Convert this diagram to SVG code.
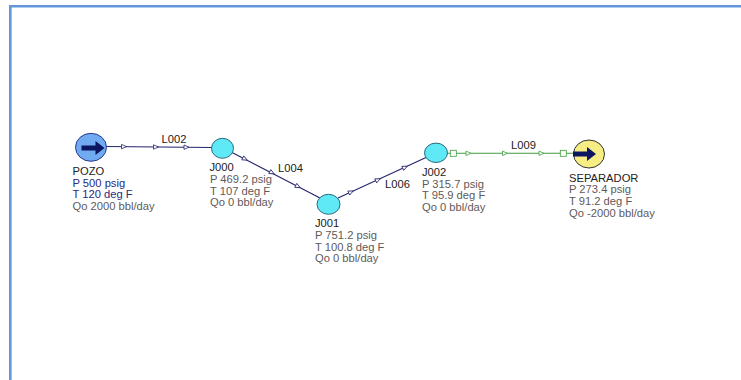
<svg xmlns="http://www.w3.org/2000/svg" width="741" height="380" viewBox="0 0 741 380">
<style>
text{font-family:"Liberation Sans",Arial,sans-serif;font-size:11.2px;fill:#5f5a5a}
.n{fill:#222}.b{fill:#2a2a80}
.pipe{fill:none;stroke:#23236e;stroke-width:1.1}
.gp{fill:none;stroke:#3f9f3f;stroke-width:1.1}
.a{fill:#fff;stroke:#23236e;stroke-width:.8}
.g{fill:#fff;stroke:#3f9f3f;stroke-width:.8}
.j{fill:#5fe8f5;stroke:#2a6a80;stroke-width:1}
</style>
<defs>
<polygon id="ar" points="-2.500,-2.200 2.500,0 -2.500,2.200"/>
<path id="big" d="M-11.500,-2.600H2.500V-7L11.500,0L2.500,7V2.600H-11.500Z" fill="#0c1560"/>
</defs>
<rect width="741" height="380" fill="#fff"/>
<path d="M10.300,380V6.300H741" fill="none" stroke="#6496dc" stroke-width="2.600"/>
<g id="connectors">
<path class="pipe" d="M106,146.500L212,147.500"/>
<path class="pipe" d="M232,152.500L320,198"/>
<path class="pipe" d="M338,198L426,157.500"/>
<path class="gp" d="M446,153.300H574"/>
<use href="#ar" class="a" x="124" y="146.600"/>
<use href="#ar" class="a" x="156" y="147"/>
<use href="#ar" class="a" x="186.500" y="147.200"/>
<use href="#ar" class="a" transform="translate(245,159) rotate(27)"/>
<use href="#ar" class="a" transform="translate(272,172.700) rotate(27)"/>
<use href="#ar" class="a" transform="translate(298,186.500) rotate(27)"/>
<use href="#ar" class="a" transform="translate(351,192) rotate(-25)"/>
<use href="#ar" class="a" transform="translate(378,179.800) rotate(-25)"/>
<use href="#ar" class="a" transform="translate(405,167.300) rotate(-25)"/>
<use href="#ar" class="g" x="468.500" y="153.300"/>
<use href="#ar" class="g" x="505" y="153.300"/>
<use href="#ar" class="g" x="541.500" y="153.300"/>
<rect class="g" x="450.300" y="150.300" width="6" height="6"/>
<rect class="g" x="560.300" y="150.300" width="6" height="6"/>
<text class="n" x="161.500" y="143">L002</text>
<text class="n" x="278" y="172">L004</text>
<text class="n" x="385" y="188">L006</text>
<text class="n" x="511" y="149">L009</text>
</g>
<g id="POZO">
<ellipse cx="91" cy="147.300" rx="15.500" ry="14" fill="#70aaf0" stroke="#2a3a90"/>
<use href="#big" x="93" y="148"/>
<text class="n" x="72.500" y="175">POZO</text>
<text class="b" x="72.500" y="187">P 500 psig</text>
<text class="b" x="72.500" y="198">T 120 deg F</text>
<text x="72.500" y="210">Qo 2000 bbl/day</text>
</g>
<g id="J000">
<ellipse class="j" cx="222.500" cy="148.300" rx="11" ry="10"/>
<text class="n" x="209.500" y="171">J000</text>
<text x="210" y="183">P 469.2 psig</text>
<text x="210" y="194.500">T 107 deg F</text>
<text x="210" y="206">Qo 0 bbl/day</text>
</g>
<g id="J001">
<ellipse class="j" cx="328.500" cy="204.300" rx="11.500" ry="10"/>
<text class="n" x="315" y="227">J001</text>
<text x="315" y="239">P 751.2 psig</text>
<text x="315" y="250.500">T 100.8 deg F</text>
<text x="315" y="262">Qo 0 bbl/day</text>
</g>
<g id="J002">
<ellipse class="j" cx="436" cy="152.800" rx="11.500" ry="9.700"/>
<text class="n" x="422" y="176">J002</text>
<text x="422" y="188">P 315.7 psig</text>
<text x="422" y="199">T 95.9 deg F</text>
<text x="422" y="211">Qo 0 bbl/day</text>
</g>
<g id="SEPARADOR">
<ellipse cx="589" cy="154" rx="15.500" ry="14" fill="#f6ee84" stroke="#333"/>
<use href="#big" x="584.500" y="154"/>
<text class="n" x="569" y="181.500">SEPARADOR</text>
<text x="569" y="193">P 273.4 psig</text>
<text x="569" y="205">T 91.2 deg F</text>
<text x="569" y="216.500">Qo -2000 bbl/day</text>
</g>
</svg>
